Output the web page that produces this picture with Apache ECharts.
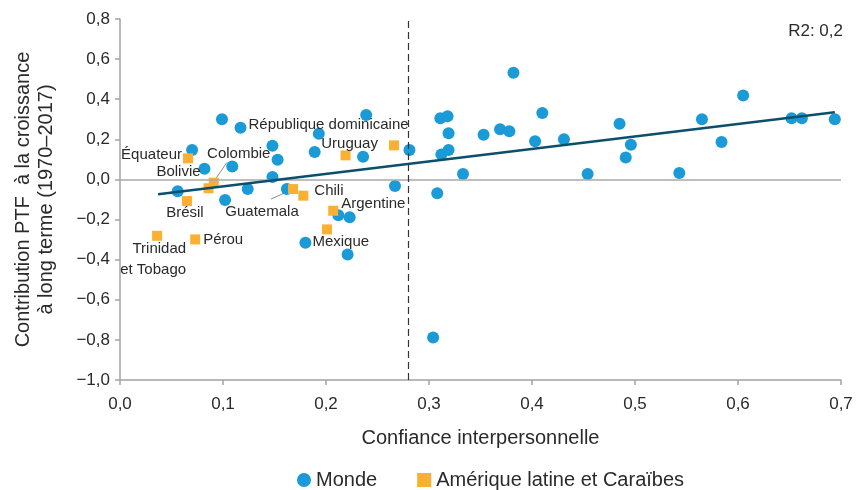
<!DOCTYPE html>
<html>
<head>
<meta charset="utf-8">
<script src="https://cdn.jsdelivr.net/npm/echarts@6/dist/echarts.min.js"></script>
<style>
  html, body { margin: 0; padding: 0; background: #fff; }
  #chart { width: 856px; height: 490px; }
</style>
</head>
<body>
<div id="chart"></div>
<script>
// Interpersonal trust vs. TFP contribution to long-term growth (1970–2017)

// "Monde" countries
const mondeX = [0.099, 0.117, 0.239, 0.193, 0.070, 0.148, 0.153, 0.189, 0.236, 0.281,
                0.082, 0.109, 0.148, 0.056, 0.124, 0.102, 0.162, 0.267, 0.212, 0.223,
                0.180, 0.221,
                0.311, 0.318, 0.319, 0.312, 0.319, 0.333, 0.308, 0.382, 0.353, 0.369,
                0.378, 0.410, 0.403, 0.431, 0.454, 0.485, 0.496, 0.491, 0.543, 0.565,
                0.584, 0.605, 0.652, 0.662, 0.694, 0.304];
const mondeY = [0.300, 0.258, 0.321, 0.228, 0.147, 0.168, 0.098, 0.137, 0.113, 0.147,
                0.053, 0.065, 0.012, -0.059, -0.048, -0.103, -0.048, -0.033, -0.178, -0.189,
                -0.316, -0.374,
                0.305, 0.315, 0.230, 0.125, 0.147, 0.027, -0.069, 0.532, 0.223, 0.250,
                0.240, 0.331, 0.190, 0.201, 0.027, 0.278, 0.173, 0.110, 0.032, 0.300,
                0.187, 0.419, 0.305, 0.305, 0.300, -0.788];
const mondeNames = ['', 'République dominicaine', '', '', '', '', '', '', '', '',
                    '', '', '', '', '', '', '', '', '', '',
                    'Mexique', ''];

// Latin America & Caribbean
const latamNames = ['Équateur', 'Colombie', 'Bolivie', 'Brésil', 'Guatemala', 'Chili',
                    'Uruguay', '', 'Argentine', '', 'Trinidad\net Tobago', 'Pérou'];
const latamX = [0.066, 0.091, 0.086, 0.065, 0.168, 0.178, 0.219, 0.266, 0.207, 0.201, 0.036, 0.073];
const latamY = [0.105, -0.016, -0.044, -0.108, -0.048, -0.081, 0.120, 0.170, -0.156, -0.249, -0.281, -0.299];

// Linear fit
const trendX = [0.037, 0.694];
const trendY = [-0.074, 0.335];

const seriesNames = ['Monde', 'Amérique latine et Caraïbes'];
const xTicks = { min: 0, max: 0.7, interval: 0.1 };
const yTicks = { min: -1.0, max: 0.8, interval: 0.2 };
const thresholdX = 0.28;
const r2Text = 'R2: 0,2';

const FONT = "'Liberation Sans', Arial, sans-serif";
const TEXT = '#2a2a2a';
const BLUE = '#1a9ad6';
const ORANGE = '#fbb034';

// label placement per country: anchor edge + pixel offset from the marker centre
const labelPlacement = {
  'République dominicaine': { align: 'left', offset: [8, -3] },
  'Mexique': { align: 'left', offset: [7, -1] },
  'Équateur': { align: 'right', offset: [-6, -4] },
  'Colombie': { align: 'center', offset: [25, -29] },
  'Bolivie': { align: 'right', offset: [-8, -16] },
  'Brésil': { align: 'center', offset: [-2, 12] },
  'Guatemala': { align: 'center', offset: [-31, 23] },
  'Chili': { align: 'left', offset: [11, -5] },
  'Uruguay': { align: 'center', offset: [4, -12] },
  'Argentine': { align: 'left', offset: [8, -7] },
  'Pérou': { align: 'left', offset: [8, 0] },
  'Trinidad\net Tobago': { align: 'right', offset: [29, 24] }
};
// leader lines (pixel offsets from the marker centre)
const leaders = {
  'Colombie': [[0, -1], [13, -20]],
  'Guatemala': [[0, 0], [-22, 10]]
};

function fmt(v) {
  const s = Math.abs(v).toFixed(1).replace('.', ',');
  return (v < -1e-9 ? '\u2212' : '') + s;
}

function buildPoints(xs, ys, names) {
  return xs.map((x, i) => {
    const name = names[i] || '';
    const item = { value: [x, ys[i]], name: name };
    const p = labelPlacement[name];
    if (p) {
      item.label = {
        show: true,
        position: 'inside',
        formatter: name,
        align: p.align,
        verticalAlign: 'middle',
        offset: p.offset,
        color: TEXT,
        fontFamily: FONT,
        fontSize: 15,
        lineHeight: 21
      };
    }
    return item;
  });
}

const leaderData = [];
latamNames.forEach((n, i) => {
  if (leaders[n]) leaderData.push({ value: [latamX[i], latamY[i]], name: n });
});

const chart = echarts.init(document.getElementById('chart'), null, { renderer: 'canvas' });

chart.setOption({
  animation: false,
  backgroundColor: '#ffffff',
  textStyle: { fontFamily: FONT, color: TEXT },
  grid: { left: 120, right: 15, top: 19, bottom: 110, containLabel: false },
  legend: {
    data: [
      { name: seriesNames[0], icon: 'circle' },
      { name: seriesNames[1], icon: 'rect' }
    ],
    left: 292,
    top: 465,
    itemWidth: 14,
    itemHeight: 14,
    itemGap: 40,
    textStyle: { fontFamily: FONT, fontSize: 20, color: TEXT }
  },
  graphic: [{
    type: 'text',
    right: 13,
    top: 23,
    style: { text: r2Text, fontFamily: FONT, fontSize: 17, fill: TEXT }
  }],
  xAxis: {
    type: 'value',
    min: xTicks.min, max: xTicks.max, interval: xTicks.interval,
    name: 'Confiance interpersonnelle',
    nameLocation: 'middle',
    nameGap: 48,
    nameTextStyle: { fontFamily: FONT, fontSize: 20, color: TEXT },
    axisLine: { show: true, onZero: false, lineStyle: { color: '#a3a3a3', width: 1.5 } },
    axisTick: { show: true, length: 5, lineStyle: { color: '#a3a3a3', width: 1.5 } },
    axisLabel: { formatter: fmt, fontFamily: FONT, fontSize: 17, color: TEXT, margin: 16 },
    splitLine: { show: false }
  },
  yAxis: {
    type: 'value',
    min: yTicks.min, max: yTicks.max, interval: yTicks.interval,
    name: 'Contribution PTF  à la croissance\nà long terme (1970\u20132017)',
    nameLocation: 'middle',
    nameGap: 62,
    nameTextStyle: { fontFamily: FONT, fontSize: 20, color: TEXT, lineHeight: 23 },
    axisLine: { show: true, onZero: false, lineStyle: { color: '#a3a3a3', width: 1.5 } },
    axisTick: { show: true, length: 5, lineStyle: { color: '#a3a3a3', width: 1.5 } },
    axisLabel: { formatter: fmt, fontFamily: FONT, fontSize: 17, color: TEXT, margin: 10 },
    splitLine: { show: false }
  },
  series: [
    {
      // reference lines: zero line and trust threshold
      type: 'line',
      data: [],
      silent: true,
      z: 1,
      markLine: {
        silent: true,
        symbol: 'none',
        label: { show: false },
        animation: false,
        data: [
          { yAxis: 0, lineStyle: { color: '#a8a8a8', width: 1.5, type: 'solid' } },
          { xAxis: thresholdX, lineStyle: { color: '#333333', width: 1.2, type: [7, 4] } }
        ]
      }
    },
    {
      // leader lines from labels to their markers
      type: 'custom',
      silent: true,
      z: 2,
      data: leaderData,
      renderItem: function (params, api) {
        const name = leaderData[params.dataIndex].name;
        const seg = leaders[name];
        const p = api.coord([api.value(0), api.value(1)]);
        return {
          type: 'line',
          shape: { x1: p[0] + seg[0][0], y1: p[1] + seg[0][1], x2: p[0] + seg[1][0], y2: p[1] + seg[1][1] },
          style: { stroke: '#8c8c8c', lineWidth: 1 }
        };
      }
    },
    {
      name: 'trend',
      type: 'line',
      data: trendX.map((x, i) => [x, trendY[i]]),
      showSymbol: false,
      silent: true,
      z: 5,
      lineStyle: { color: '#0b4f6c', width: 2.5 }
    },
    {
      name: seriesNames[0],
      type: 'scatter',
      data: buildPoints(mondeX, mondeY, mondeNames),
      symbol: 'circle',
      symbolSize: 12,
      z: 3,
      itemStyle: { color: BLUE, opacity: 1 },
      label: { show: false }
    },
    {
      name: seriesNames[1],
      type: 'scatter',
      data: buildPoints(latamX, latamY, latamNames),
      symbol: 'rect',
      symbolSize: 10,
      z: 4,
      itemStyle: { color: ORANGE, opacity: 1 },
      label: { show: false }
    }
  ]
});
</script>
</body>
</html>
